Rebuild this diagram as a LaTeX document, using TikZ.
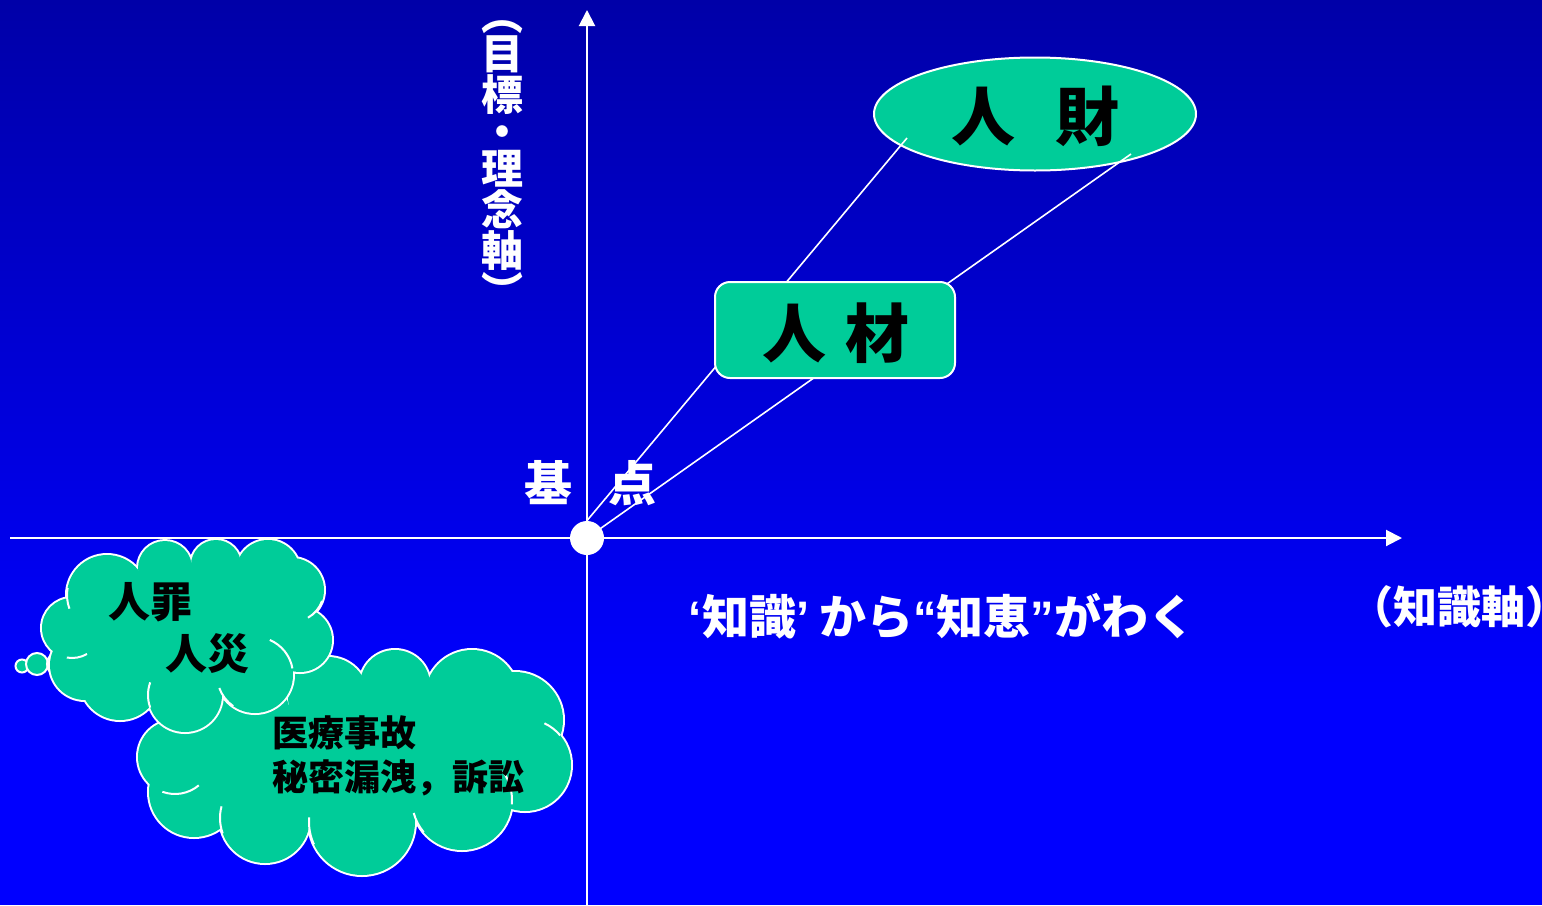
\documentclass[tikz,border=0pt]{standalone}
\usepackage{fontspec}
\setmainfont{Noto Sans CJK JP}
\newfontfamily\latq{Liberation Sans}
\usetikzlibrary{arrows.meta,shapes.geometric}
\definecolor{tgreen}{RGB}{0,204,153}
\definecolor{bgtop}{RGB}{0,0,168}
\definecolor{bgbot}{RGB}{0,0,255}
\newcommand\iarc[5]{\draw[cloudline] (#1,#2) ++(#4:#3) arc[start angle=#4,end angle=#5,radius=#3];}
\begin{document}
\begin{tikzpicture}[x=0.5pt,y=-0.5pt,
  axis/.style={white,line width=1pt,-{Triangle[length=8pt,width=8pt]}},
  link/.style={white,line width=0.8pt},
  cloudline/.style={white,line width=1pt},
  wtext/.style={text=white,inner sep=0pt,font=\bfseries\fontsize{24pt}{24pt}\selectfont},
  btext/.style={text=black,inner sep=0pt,font=\bfseries\fontsize{#1}{#1}\selectfont},
  greenbox/.style={draw=white,line width=1pt,fill=tgreen,inner sep=0pt}]
\useasboundingbox (0,0) rectangle (1542,905);
\shade[top color=bgtop,bottom color=bgbot] (0,0) rectangle (1542,702);
\fill[bgbot] (0,700) rectangle (1542,905);

% axes
\coordinate (xs) at (10,538); \coordinate (xe) at (1402,538);
\coordinate (ys) at (587,905); \coordinate (ye) at (587,10);
\draw[axis] (xs) -- (xe);
\draw[axis] (ys) -- (ye);

% ellipse
\node[greenbox,ellipse,minimum width=161pt,minimum height=56.5pt] (zai) at (1035,114) {};
\node[btext=32pt] (zaitext) at (1035.5,116.5) {人\hspace{20.5pt}財};

% origin
\node[circle,fill=white,minimum size=17pt,inner sep=0pt] (O) at (587,538) {};
\coordinate (e1) at (907,138);
\coordinate (e2) at (1131,154);
\draw[link] (O.north) -- (e1);
\draw[link] (O.center) -- (e2);

% box
\node[greenbox,rounded corners=7.5pt,minimum width=120pt,minimum height=48pt] (cai) at (835,330) {};
\node[btext=32pt] (caitext) at (836,333.5) {人\hspace{10pt}材};

% labels
\node[wtext] (kiten) at (590,483) {基\hspace{18pt}点};
\node[text=white,inner sep=0pt,align=center,font=\bfseries\fontsize{21pt}{18.5pt}\selectfont] (yaxis) at (502,164)
  {︵\\目\\標\\・\\理\\念\\軸\\︶};
\node[text=white,inner sep=0pt,font=\bfseries\fontsize{23.5pt}{23.5pt}\selectfont] (chie) at (942,616) {{\latq ‘}知識{\latq ’}\hspace{5pt}から{\latq “}知恵{\latq ”}がわく};
\node[text=white,inner sep=0pt,font=\bfseries\fontsize{22pt}{22pt}\selectfont] (xaxis) at (1459,607) {（知識軸）};

% cloud 2
\def\cloudB{175/757/37,194/792/45,265/818/45,362/822/53,462/800/50,525/765/46,515/720/48,472/697/47,395/685/35,328/697/40,250/715/40,210/730/30}
\foreach \x/\y/\r in \cloudB {\draw[white,line width=2pt] (\x,\y) circle[radius=\r];}
\foreach \x/\y/\r in \cloudB {\fill[tgreen] (\x,\y) circle[radius=\r];}
\fill[tgreen] (175,757)--(194,792)--(265,818)--(362,822)--(462,800)--(525,765)--(515,720)--(472,697)--(395,685)--(328,697)--(250,715)--(210,730)--cycle;
\iarc{525}{765}{46}{-65}{-40}
\iarc{462}{800}{50}{-35}{5}
\iarc{462}{800}{50}{140}{165}
\iarc{362}{822}{53}{155}{185}
\iarc{265}{818}{45}{160}{195}
\iarc{175}{757}{37}{50}{110}

% bubbles
\draw[cloudline,fill=tgreen] (22,666) circle[radius=6.5];
\draw[cloudline,fill=tgreen] (37,664) circle[radius=11];
\draw[cloudline,fill=tgreen] (60,664) circle[radius=13];

% cloud 1
\def\cloudA{72/628/30,107/595/40,165/568/27,216/565/25,268/572/32,292/590/32,300/640/32,255/675/38,185/695/37,120/680/40,85/665/35}
\foreach \x/\y/\r in \cloudA {\draw[white,line width=2pt] (\x,\y) circle[radius=\r];}
\foreach \x/\y/\r in \cloudA {\fill[tgreen] (\x,\y) circle[radius=\r];}
\fill[tgreen] (72,628)--(107,595)--(165,568)--(216,565)--(268,572)--(292,590)--(300,640)--(255,675)--(185,695)--(120,680)--(85,665)--cycle;
\iarc{255}{675}{38}{-67}{-10}
\iarc{255}{675}{38}{125}{160}
\iarc{292}{590}{32}{20}{60}
\iarc{72}{628}{30}{60}{100}
\iarc{107}{595}{40}{160}{190}
\iarc{185}{695}{37}{160}{200}

% cloud texts
\node[btext=21pt] (t1) at (150,602.5) {人罪};
\node[btext=21pt] (t2) at (207,653.5) {人災};
\node[btext=18pt,anchor=west] (t3) at (272,733) {医療事故};
\node[btext=18pt,anchor=west] (t4) at (272,778) {秘密漏洩，訴訟};
\end{tikzpicture}
\end{document}
